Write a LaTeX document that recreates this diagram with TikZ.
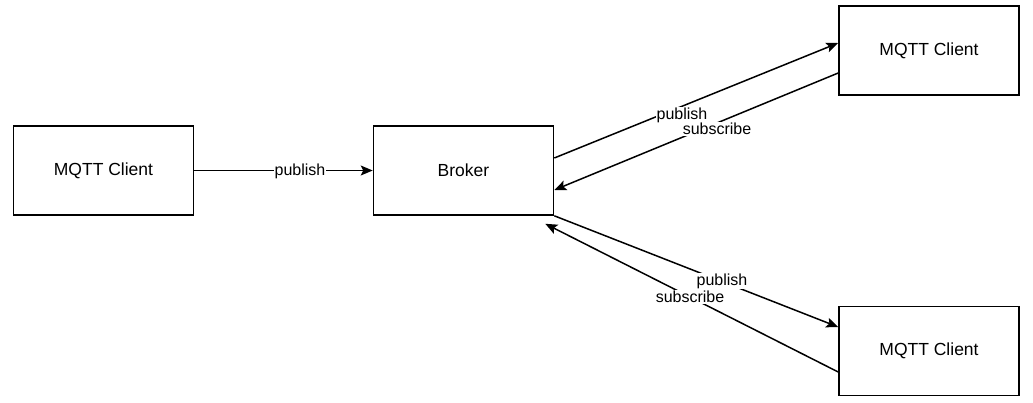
\documentclass[tikz,border=0pt]{standalone}
\usepackage{fontspec}
\setmainfont{Liberation Sans}
\usetikzlibrary{arrows.meta}
\begin{document}
\begin{tikzpicture}[x=1pt,y=-1pt,
  box/.style={draw, line width=1.6pt, minimum width=180pt, minimum height=89pt, inner sep=0pt, font=\fontsize{17.5}{20}\selectfont},
  conn/.style={line width=1.5pt, -{Stealth[length=12pt,width=10pt,inset=2.5pt]}},
  lbl/.style={fill=white, inner sep=1pt, font=\fontsize{16}{18}\selectfont}]
\useasboundingbox (0,0) rectangle (1033,402);
\node[box] (c1) at (103.5,170.5) {MQTT Client};
\node[box] (br) at (463.5,170.5) {Broker};
\node[box] (c2) at (929,50.5) {MQTT Client};
\node[box] (c3) at (929,351) {MQTT Client};
% left publish
\draw[conn] (c1.east) -- (br.west);
\node[lbl] (l1) at (300,171) {publish};
% top pair
\draw[conn] ([yshift=12.5pt]br.east) -- ([yshift=7.5pt]c2.west);
\draw[conn] ([yshift=-22.5pt]c2.west) -- ([yshift=-19.5pt]br.east);
\node[lbl] (l2) at (682,115) {publish};
\node[lbl] (l3) at (717,129) {subscribe};
% bottom pair
\draw[conn] (br.south east) -- ([yshift=24pt]c3.west);
\draw[conn] ([yshift=-21pt]c3.west) -- ([xshift=-9pt,yshift=-8pt]br.south east);
\node[lbl] (l4) at (722,281) {publish};
\node[lbl] (l5) at (690,297) {subscribe};
\end{tikzpicture}
\end{document}
